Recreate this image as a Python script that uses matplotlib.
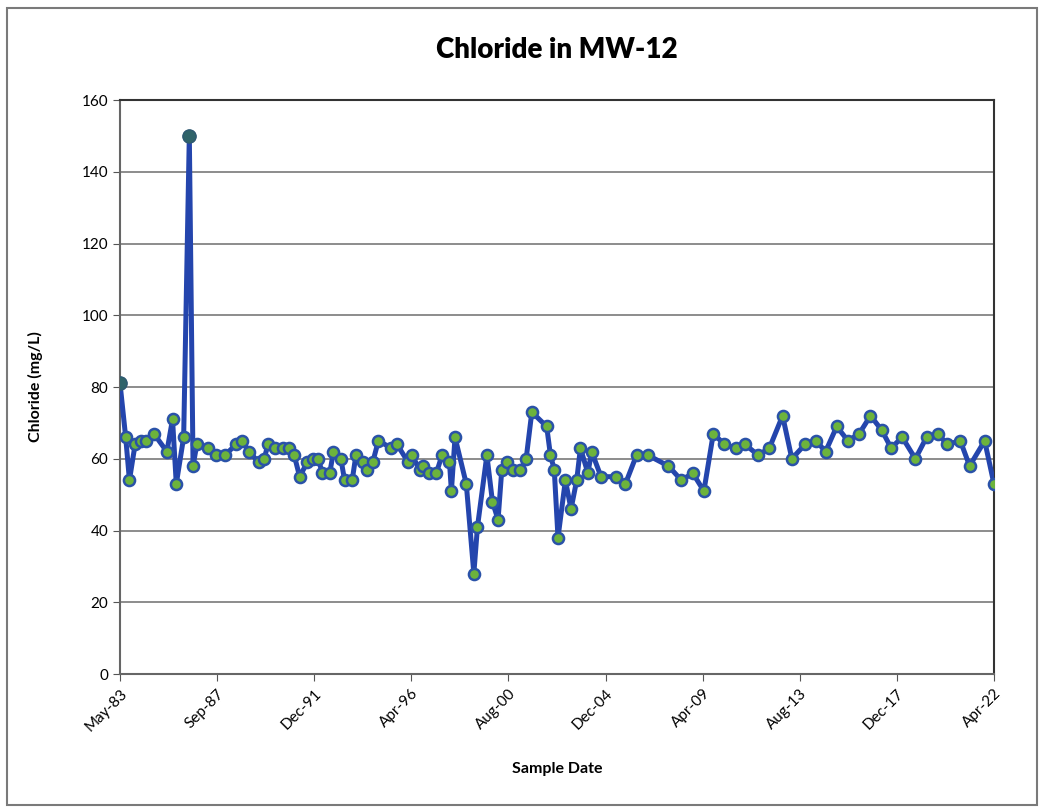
import numpy as np
import pandas as pd
import matplotlib
matplotlib.use("Agg")
import matplotlib.pyplot as plt
import matplotlib.dates as mdates
from matplotlib.patches import Rectangle

plt.rcParams["font.family"] = ["Lato", "DejaVu Sans"]

# sample dates (year-month) and chloride results
sample_dates = [
    "1983-05", "1983-08", "1983-10", "1984-01", "1984-04", "1984-07", "1984-11",
    "1985-06", "1985-09", "1985-11", "1986-03", "1986-06", "1986-08", "1986-10",
    "1987-04", "1987-08", "1988-01", "1988-07", "1988-10", "1989-02", "1989-07",
    "1989-10", "1989-12", "1990-04", "1990-08", "1990-11", "1991-02", "1991-05",
    "1991-09", "1991-12", "1992-03", "1992-05", "1992-09", "1992-11", "1993-03",
    "1993-05", "1993-09", "1993-11", "1994-03", "1994-05", "1994-08", "1994-11",
    "1995-06", "1995-09", "1996-03", "1996-05", "1996-09", "1996-11", "1997-02",
    "1997-06", "1997-09", "1998-01", "1998-02", "1998-04", "1998-10", "1999-02",
    "1999-04", "1999-09", "1999-12", "2000-03", "2000-05", "2000-08", "2000-11",
    "2001-03", "2001-06", "2001-09", "2002-05", "2002-07", "2002-09", "2002-11",
    "2003-03", "2003-06", "2003-09", "2003-11", "2004-03", "2004-05", "2004-10",
    "2005-06", "2005-11", "2006-05", "2006-11", "2007-10", "2008-05", "2008-11",
    "2009-05", "2009-10", "2010-04", "2010-10", "2011-03", "2011-10", "2012-04",
    "2012-11", "2013-04", "2013-11", "2014-05", "2014-10", "2015-04", "2015-10",
    "2016-04", "2016-10", "2017-04", "2017-09", "2018-03", "2018-10", "2019-04",
    "2019-10", "2020-03", "2020-10", "2021-03", "2021-11", "2022-04",
]
chloride = [
    81, 66, 54, 64, 65, 65, 67,
    62, 71, 53, 66, 150, 58, 64,
    63, 61, 61, 64, 65, 62, 59,
    60, 64, 63, 63, 63, 61, 55,
    59, 60, 60, 56, 56, 62, 60,
    54, 54, 61, 59, 57, 59, 65,
    63, 64, 59, 61, 57, 58, 56,
    56, 61, 59, 51, 66, 53, 28,
    41, 61, 48, 43, 57, 59, 57,
    57, 60, 73, 69, 61, 57, 38,
    54, 46, 54, 63, 56, 62, 55,
    55, 53, 61, 61, 58, 54, 56,
    51, 67, 64, 63, 64, 61, 63,
    72, 60, 64, 65, 62, 69, 65,
    67, 72, 68, 63, 66, 60, 66,
    67, 64, 65, 58, 65, 53,
]

axis_start = "1983-05-01"
axis_end = "2022-04-01"
tick_labels = ["May-83", "Sep-87", "Dec-91", "Apr-96", "Aug-00",
               "Dec-04", "Apr-09", "Aug-13", "Dec-17", "Apr-22"]
y_ticks = [0, 20, 40, 60, 80, 100, 120, 140, 160]

df = pd.DataFrame({"date": pd.to_datetime(sample_dates), "cl": chloride})

fig = plt.figure(figsize=(10.41, 8.10), dpi=100)
ax = fig.add_axes([0.1153, 0.1679, 0.8395, 0.7086])

# outer chart border
fig.patches.append(Rectangle((0.007, 0.006), 0.989, 0.984, transform=fig.transFigure,
                             fill=False, edgecolor="#7a7a7a", linewidth=1.5))

ax.plot(df["date"], df["cl"], color="#2445ad", linewidth=3.6, zorder=3,
        marker="o", markersize=8, markerfacecolor="#6cb33c",
        markeredgecolor="#2a52a8", markeredgewidth=1.8)

# highlighted high results drawn in darker markers
high = df[df["cl"] > 75]
ax.plot(high["date"], high["cl"], linestyle="none", marker="o", markersize=9.5,
        markerfacecolor="#2f6369", markeredgecolor="#2f5a70", zorder=4)

x0 = mdates.date2num(pd.Timestamp(axis_start))
x1 = mdates.date2num(pd.Timestamp(axis_end))
ax.set_xlim(x0, x1)
ax.set_ylim(0, 160)
ax.set_xticks(np.linspace(x0, x1, len(tick_labels)))
ax.set_xticklabels(tick_labels, rotation=45, ha="right", rotation_mode="anchor",
                   fontsize=11)
ax.set_yticks(y_ticks)
ax.tick_params(axis="y", labelsize=11, length=5, color="#555555")
ax.tick_params(axis="x", length=5, color="#555555", pad=4)

ax.grid(True, axis="y", color="#8c8c8c", linewidth=1.4)
ax.set_axisbelow(True)
for side in ["left", "bottom"]:
    ax.spines[side].set_color("#666666")
    ax.spines[side].set_linewidth(1.5)
for side in ["top", "right"]:
    ax.spines[side].set_color("#333333")
    ax.spines[side].set_linewidth(1.5)

ax.set_title("Chloride in MW-12", fontsize=20, fontweight="heavy", pad=30)
ax.set_xlabel("Sample Date", fontsize=11.5, fontweight="bold", labelpad=20)
ax.set_ylabel("Chloride (mg/L)", fontsize=11.5, fontweight="bold", labelpad=28)

fig.savefig("out.png", dpi=100)
